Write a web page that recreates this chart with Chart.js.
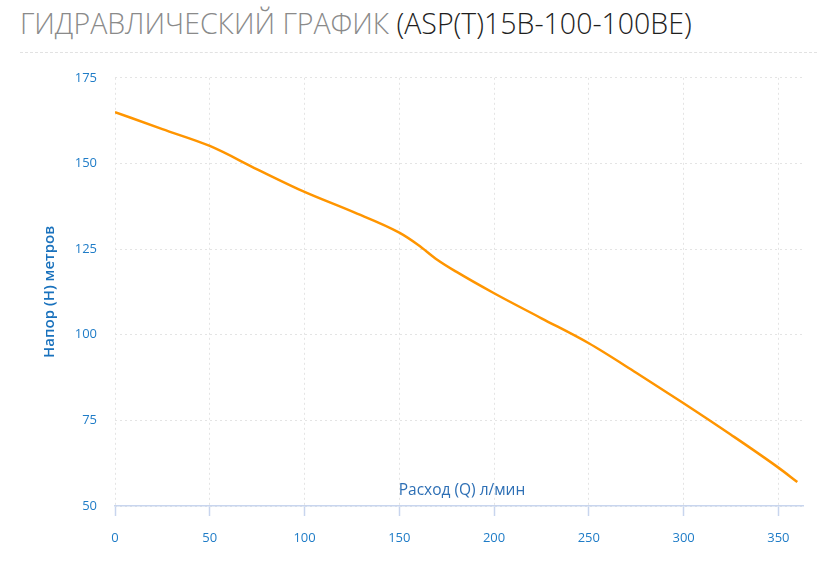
<!DOCTYPE html>
<html>
<head>
<meta charset="utf-8">
<script src="https://cdn.jsdelivr.net/npm/chart.js@4"></script>
<style>
  body { margin: 0; width: 827px; height: 576px; background: #fff; position: relative; overflow: hidden; }
  #title { position: absolute; left: 20px; top: 4px; font-family: "Open Sans", sans-serif; font-weight: 300; font-size: 28.5px; color: #8a8a8a; white-space: nowrap; }
  #title span { color: #1e1e1e; }
  #sep { position: absolute; left: 20px; right: 10px; top: 52px; border-top: 1px dashed #e2e2e2; }
  #wrap { position: absolute; left: 0; top: 52px; width: 827px; height: 524px; }
  canvas { display: block; }
</style>
</head>
<body>
<div id="title">ГИДРАВЛИЧЕСКИЙ ГРАФИК <span>(ASP(T)15B-100-100BE)</span></div>
<div id="sep"></div>
<div id="wrap"><canvas id="pumpChart"></canvas></div>
<script>
// flow Q (л/мин) and head H (м)
const flow = [0, 25, 50, 75, 100, 125, 150, 160, 170, 180, 200, 225, 250, 275, 300, 325, 350, 360];
const head = [165, 160, 155.1, 148.3, 141.7, 136, 129.8, 126.2, 121.9, 118.4, 112.1, 104.8, 97.5, 88.9, 80, 70.8, 61.2, 57];
const xTicks = [0, 50, 100, 150, 200, 250, 300, 350];
const yTicks = [50, 75, 100, 125, 150, 175];

const xTitle = 'Расход (Q) л/мин';
const yTitle = 'Напор (Н) метров';

const tickBlue = '#1f7cc7';

// x axis title sits inside the plot, just above the axis line
const innerXTitle = {
  id: 'innerXTitle',
  afterDatasetsDraw(chart) {
    const { ctx, chartArea } = chart;
    ctx.save();
    ctx.font = '15.5px "Open Sans", sans-serif';
    ctx.fillStyle = '#2d6fb5';
    ctx.textAlign = 'center';
    ctx.textBaseline = 'middle';
    ctx.fillText(xTitle, (chartArea.left + chartArea.right) / 2 + 3, chartArea.bottom - 15);
    ctx.restore();
  }
};

const ctx = document.getElementById('pumpChart').getContext('2d');
new Chart(ctx, {
  type: 'line',
  data: {
    datasets: [{
      data: flow.map((q, i) => ({ x: q, y: head[i] })),
      borderColor: '#ff9500',
      borderWidth: 2.5,
      pointRadius: 0,
      cubicInterpolationMode: 'monotone',
      fill: false
    }]
  },
  options: {
    responsive: true,
    maintainAspectRatio: false,
    animation: false,
    layout: { padding: { top: 10, left: 41, right: 24, bottom: 0 } },
    plugins: { legend: { display: false }, tooltip: { enabled: false } },
    scales: {
      x: {
        type: 'linear',
        min: 0,
        max: 363,
        afterBuildTicks: s => { s.ticks = xTicks.map(v => ({ value: v })); },
        afterFit: s => { s.height = 70; },
        ticks: { color: tickBlue, font: { family: 'Open Sans', size: 13 }, padding: 14, maxRotation: 0 },
        grid: { color: '#e4e4e4', tickColor: '#c8d5ee', tickLength: 10, tickWidth: 1.5, tickBorderDash: [] },
        border: { display: true, color: '#c8d5ee', width: 1.5, dash: [2, 3] }
      },
      y: {
        min: 50,
        max: 175,
        afterBuildTicks: s => { s.ticks = yTicks.map(v => ({ value: v })); },
        afterFit: s => { s.width = 74; },
        ticks: { color: tickBlue, font: { family: 'Open Sans', size: 13 }, padding: 18 },
        grid: { color: '#e4e4e4', drawTicks: false },
        border: { display: false, dash: [2, 3] },
        title: { display: true, text: yTitle, color: '#1a72bd', font: { family: 'Open Sans', size: 15, weight: 600 }, padding: 0 }
      }
    }
  },
  plugins: [innerXTitle]
});
</script>
</body>
</html>
